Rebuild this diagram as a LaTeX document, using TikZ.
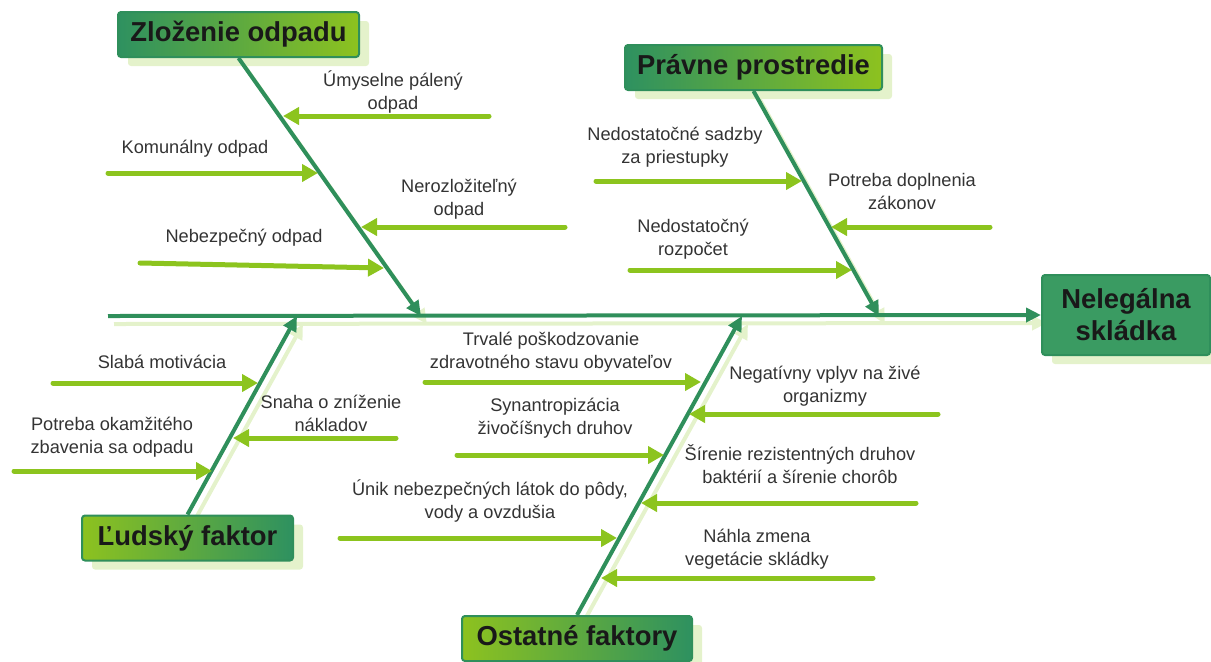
\documentclass[tikz,border=0pt]{standalone}
\usepackage{fontspec}
\setmainfont{Liberation Sans}
\usetikzlibrary{arrows.meta,shadows,backgrounds}
\definecolor{bonegreen}{HTML}{2F8F5B}
\definecolor{twiggreen}{HTML}{8CC41E}
\definecolor{shadegreen}{HTML}{E4F2CB}
\definecolor{darkbox}{HTML}{2E9160}
\definecolor{lightbox}{HTML}{8DC21F}
\definecolor{headfill}{HTML}{3A9B62}
\definecolor{notegrey}{HTML}{333333}
\begin{document}
\begin{tikzpicture}[
    x=0.5pt, y=-0.5pt,
    causebox/.style={rectangle, draw=bonegreen, line width=1pt, rounded corners=1.5pt,
        inner sep=0pt, minimum height=22.5pt, text=black!90,
        font=\fontsize{13.7pt}{16pt}\selectfont\bfseries,
        drop shadow={fill=shadegreen, opacity=1, shadow xshift=5pt, shadow yshift=-4.5pt}},
    effectbox/.style={causebox, fill=headfill, minimum width=84pt, minimum height=40pt, align=center},
    note/.style={align=center, text=notegrey, font=\fontsize{9.1pt}{11.5pt}\selectfont},
    bone/.style={draw=bonegreen, line width=2pt, -{Triangle[length=7.5pt,width=7pt]}},
    boneshadow/.style={bone, draw=shadegreen},
    twig/.style={draw=twiggreen, line width=2.5pt, line cap=round, -{Triangle[length=8pt,width=8.5pt]}}
]
    \useasboundingbox (0,0) rectangle (1211,661);

    % head and causes
    \node[effectbox] (skladka) at (1126,315) {Nelegálna\\skládka};
    \node[causebox, minimum width=120.5pt, left color=darkbox, right color=lightbox] (zlozenie) at (238.5,34.5) {Zloženie odpadu};
    \node[causebox, minimum width=128.5pt, left color=darkbox, right color=lightbox] (pravne) at (753.5,67.5) {Právne prostredie};
    \node[causebox, minimum width=105.5pt, left color=lightbox, right color=darkbox] (ludsky) at (187.5,538) {Ľudský faktor};
    \node[causebox, minimum width=115pt, left color=lightbox, right color=darkbox] (ostatne) at (577,638.5) {Ostatné faktory};

    % spine and bones
    \coordinate (chvost) at (108,316);
    \coordinate (jZ) at (421,316);
    \coordinate (jP) at (879,316);
    \coordinate (jL) at (297,316);
    \coordinate (jO) at (742,316);
    \begin{pgfonlayer}{background}
    \begin{scope}[transform canvas={xshift=3pt, yshift=-4pt}]
        \draw[boneshadow] (chvost) -- (skladka.west);
        \draw[boneshadow] (zlozenie.south) -- (jZ);
        \draw[boneshadow] (pravne.south) -- (jP);
        \draw[boneshadow] (ludsky.north) -- (jL);
        \draw[boneshadow] (ostatne.north) -- (jO);
    \end{scope}
    \end{pgfonlayer}
    \draw[bone] (chvost) -- (skladka.west);
    \draw[bone] (zlozenie.south) -- (jZ);
    \draw[bone] (pravne.south) -- (jP);
    \draw[bone] (ludsky.north) -- (jL);
    \draw[bone] (ostatne.north) -- (jO);

    % Zlozenie odpadu
    \coordinate (umysA) at (489,116);  \coordinate (umysB) at (283,116);
    \coordinate (komuA) at (108,173);  \coordinate (komuB) at (318,173);
    \coordinate (neroA) at (565,227);  \coordinate (neroB) at (361,227);
    \coordinate (nebeA) at (140,263);  \coordinate (nebeB) at (384,268);
    \draw[twig] (umysA) -- (umysB);
    \draw[twig] (komuA) -- (komuB);
    \draw[twig] (neroA) -- (neroB);
    \draw[twig] (nebeA) -- (nebeB);
    \node[note] (umys) at (393,92) {Úmyselne pálený\\odpad};
    \node[note] (komu) at (195,149) {Komunálny odpad};
    \node[note] (nero) at (459,199) {Nerozložiteľný\\odpad};
    \node[note] (nebe) at (244,238) {Nebezpečný odpad};

    % Pravne prostredie
    \coordinate (sadzA) at (596,181);  \coordinate (sadzB) at (802,181);
    \coordinate (doplA) at (990,227);  \coordinate (doplB) at (831,227);
    \coordinate (rozpA) at (630,270);  \coordinate (rozpB) at (852,270);
    \draw[twig] (sadzA) -- (sadzB);
    \draw[twig] (doplA) -- (doplB);
    \draw[twig] (rozpA) -- (rozpB);
    \node[note] (sadz) at (675,147) {Nedostatočné sadzby\\za priestupky};
    \node[note] (dopl) at (902,191) {Potreba doplnenia\\zákonov};
    \node[note] (rozp) at (693,239) {Nedostatočný\\rozpočet};

    % Ludsky faktor
    \coordinate (slabA) at (53,383);   \coordinate (slabB) at (258,383);
    \coordinate (snahA) at (396,438);  \coordinate (snahB) at (233,438);
    \coordinate (okamA) at (14,471);   \coordinate (okamB) at (212,471);
    \draw[twig] (slabA) -- (slabB);
    \draw[twig] (snahA) -- (snahB);
    \draw[twig] (okamA) -- (okamB);
    \node[note] (slab) at (162,362) {Slabá motivácia};
    \node[note] (snah) at (331,413) {Snaha o zníženie\\nákladov};
    \node[note] (okam) at (112,437) {Potreba okamžitého\\zbavenia sa odpadu};

    % Ostatne faktory
    \coordinate (trvaA) at (425,382);  \coordinate (trvaB) at (701,382);
    \coordinate (negaA) at (938,414);  \coordinate (negaB) at (689,414);
    \coordinate (synaA) at (457,455);  \coordinate (synaB) at (664,455);
    \coordinate (sireA) at (916,503);  \coordinate (sireB) at (641,503);
    \coordinate (unikA) at (340,538);  \coordinate (unikB) at (617,538);
    \coordinate (nahlA) at (873,578);  \coordinate (nahlB) at (601,578);
    \draw[twig] (trvaA) -- (trvaB);
    \draw[twig] (negaA) -- (negaB);
    \draw[twig] (synaA) -- (synaB);
    \draw[twig] (sireA) -- (sireB);
    \draw[twig] (unikA) -- (unikB);
    \draw[twig] (nahlA) -- (nahlB);
    \node[note] (trva) at (551,352) {Trvalé poškodzovanie\\zdravotného stavu obyvateľov};
    \node[note] (nega) at (825,386) {Negatívny vplyv na živé\\organizmy};
    \node[note] (syna) at (555,418) {Synantropizácia\\živočíšnych druhov};
    \node[note] (sire) at (800,464) {Šírenie rezistentných druhov\\baktérií a šírenie chorôb};
    \node[note] (unik) at (490,501) {Únik nebezpečných látok do pôdy,\\vody a ovzdušia};
    \node[note] (nahl) at (757,549) {Náhla zmena\\vegetácie skládky};
\end{tikzpicture}
\end{document}
